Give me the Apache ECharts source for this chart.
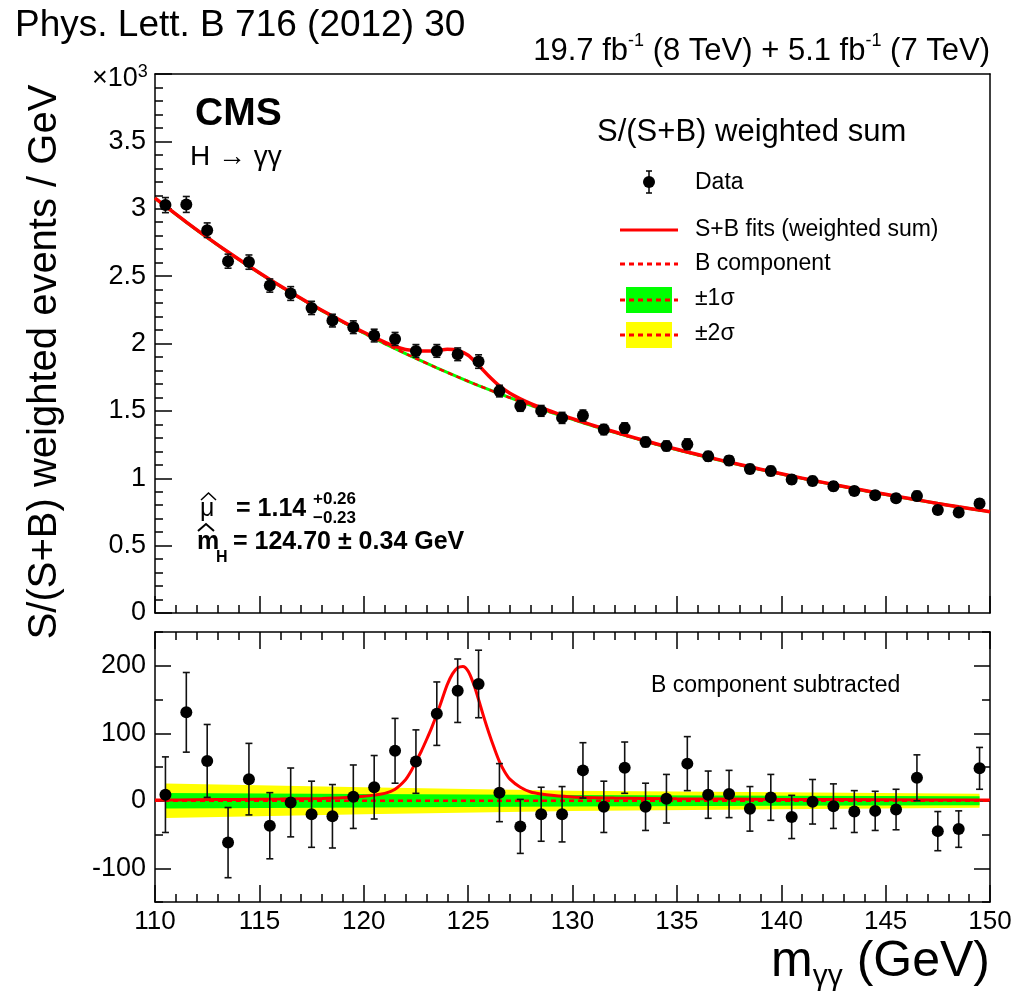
<!DOCTYPE html>
<html><head><meta charset="utf-8">
<script src="https://cdn.jsdelivr.net/npm/echarts@6/dist/echarts.min.js"></script>
<style>html,body{margin:0;padding:0;background:#fff}#c{width:1018px;height:999px}</style>
</head><body><div id="c"></div>
<script>
// ---- data ----
const massBins = [110.5,111.5,112.5,113.5,114.5,115.5,116.5,117.5,118.5,119.5,120.5,121.5,122.5,123.5,124.5,125.5,126.5,127.5,128.5,129.5,130.5,131.5,132.5,133.5,134.5,135.5,136.5,137.5,138.5,139.5,140.5,141.5,142.5,143.5,144.5,145.5,146.5,147.5,148.5,149.5];
const weightedEvents = [3027,3032,2841,2611,2604,2430,2371,2264,2170,2121,2059,2034,1945,1945,1920,1866,1647,1537,1500,1448,1465,1361,1373,1269,1240,1252,1163,1131,1069,1054,990,980,941,906,874,852,869,765,745,812];
const bkgSubtracted = [9,131,59,-62,32,-37,-2.5,-20,-23,6,20,74,58,129,163,173,12,-38,-20,-20,45,-9,49,-9,3,55,9,10,-12,5,-24,-1.5,-8,-16,-15,-13,34,-45,-42,48];
const statErrors = [56,59,54,52,53,49,51,49,47,47,47,48,47,47,47,50,43,40,40,41,41,38,38,35,36,40,35,35,33,34,32,33,33,31,29,30,34,29,27,31];
const bkgMass = [110,110.5,111.5,112.5,113.5,114.5,115.5,116.5,117.5,118.5,119.5,120.5,121.5,122.5,123.5,124.5,125.5,126.5,127.5,128.5,129.5,130.5,131.5,132.5,133.5,134.5,135.5,136.5,137.5,138.5,139.5,140.5,141.5,142.5,143.5,144.5,145.5,146.5,147.5,148.5,149.5,150];
const bkgFit = [3078,3018,2900,2786,2677,2573,2473,2378,2287,2200,2117,2038,1962,1889,1819,1752,1688,1627,1569,1514,1462,1412,1364,1318,1274,1232,1192,1154,1117,1082,1048,1015,983,952,922,893,865,838,812,787,763,751];
const sbMass = [110,110.5,111.5,112.5,113.5,114.5,115.5,116.5,117.5,118.5,119.5,120.5,121,121.5,122,122.5,123,123.5,124,124.5,125,125.5,126,126.5,127,127.5,128,128.5,129.5,130.5,131.5,132.5,133.5,134.5,135.5,136.5,137.5,138.5,139.5,140.5,141.5,142.5,143.5,144.5,145.5,146.5,147.5,148.5,149.5,150];
const sbFit = [3079,3019,2901,2788,2679,2575,2475,2381,2290,2204,2122,2046,2011,1978,1955,1947,1944,1946,1957,1949,1913,1838,1757,1685,1630,1589,1554,1524,1468,1417,1368,1322,1278,1235,1195,1157,1120,1085,1050,1017,985,954,924,895,867,840,813,788,764,752];
const sigMass = [110,112,114,116,118,119,120,120.5,121,121.5,122,122.25,122.5,122.75,123,123.25,123.5,123.75,124,124.25,124.5,124.75,125,125.25,125.5,125.75,126,126.25,126.5,126.75,127,127.5,128,128.5,129,130,132,135,140,145,150];
const sigFit = [1,1.5,2,2.5,3.5,4.5,6.5,8.5,11,17,31,43,58,73,90,108,128,150,172,188,197,199,192,174,150,124,100,78,58,43,32,20,13,10,8,5.5,4,3,2,1.5,1];
const bandMass = [110.5,120,130,140,149.5];
const band1Sigma = [11.5,10,8.5,7.5,6.7];
const band2Sigma = [25.5,20,15,12.5,10.4];
const bottomLabelValues = [-100,0,100,200];

const FONT = "'Liberation Sans', Arial, Helvetica, sans-serif";
const RED = '#ff0000', GREEN = '#00ff00', YELLOW = '#ffff00';
const chart = echarts.init(document.getElementById('c'), null, {renderer:'canvas'});

const lineBlack = {color:'#000', width:1.5};
function xAx(grid, pos, opts) {
  return Object.assign({type:'value', gridIndex:grid, position:pos, min:110, max:150, interval:5,
    axisLine:{show:true, onZero:false, lineStyle:lineBlack},
    axisTick:{show:true, inside:true, length:17, lineStyle:lineBlack},
    minorTick:{show:true, splitNumber:5, length:8, lineStyle:lineBlack},
    axisLabel:{show:false}, splitLine:{show:false}, minorSplitLine:{show:false}}, opts||{});
}
function yAx(grid, pos, min, max, interval, opts) {
  return Object.assign({type:'value', gridIndex:grid, position:pos, min:min, max:max, interval:interval,
    axisLine:{show:true, onZero:false, lineStyle:lineBlack},
    axisTick:{show:true, inside:true, length:17, lineStyle:lineBlack},
    minorTick:{show:false},
    axisLabel:{show:false}, splitLine:{show:false}}, opts||{});
}

function errorBars(xi, yi, centers) {
  return {type:'custom', xAxisIndex:xi, yAxisIndex:yi, z:6, silent:true,
    data: massBins.map((m,i)=>[m, centers[i]-statErrors[i], centers[i]+statErrors[i]]),
    encode:{x:0, y:[1,2]},
    renderItem(params, api) {
      const x = api.value(0);
      const lo = api.coord([x, api.value(1)]), hi = api.coord([x, api.value(2)]);
      const st = {stroke:'#111', lineWidth:1.6};
      const c = 3.5;
      return {type:'group', children:[
        {type:'line', shape:{x1:hi[0],y1:hi[1],x2:lo[0],y2:lo[1]}, style:st},
        {type:'line', shape:{x1:hi[0]-c,y1:hi[1],x2:hi[0]+c,y2:hi[1]}, style:st},
        {type:'line', shape:{x1:lo[0]-c,y1:lo[1],x2:lo[0]+c,y2:lo[1]}, style:st}
      ]};
    }
  };
}
function band(widths, color, z) {
  return {type:'custom', xAxisIndex:2, yAxisIndex:4, z:z, silent:true, data:[[130,0]],
    renderItem(params, api) {
      const pts = [];
      bandMass.forEach((m,i)=>pts.push(api.coord([m, widths[i]])));
      for (let i=bandMass.length-1;i>=0;i--) pts.push(api.coord([bandMass[i], -widths[i]]));
      return {type:'polygon', shape:{points:pts}, style:{fill:color}};
    }
  };
}
const dot = {symbol:'circle', symbolSize:12, itemStyle:{color:'#000', opacity:1}, z:7, silent:true};

const option = {
  animation:false,
  backgroundColor:'#fff',
  textStyle:{fontFamily:FONT},
  grid:[
    {left:155, top:74, width:835, height:539},
    {left:155, top:632, width:835, height:270}
  ],
  xAxis:[
    xAx(0,'bottom'),
    xAx(0,'top',{axisTick:{show:false}, minorTick:{show:false}}),
    xAx(1,'bottom',{axisLabel:{show:true, color:'#000', fontSize:26, fontFamily:FONT, margin:7}}),
    xAx(1,'top')
  ],
  yAxis:[
    yAx(0,'left',0,4000,500,{
      minorTick:{show:true, splitNumber:5, length:8, lineStyle:lineBlack},
      axisLabel:{show:true, color:'#000', fontSize:27, fontFamily:FONT, margin:9,
        formatter:v=> v>=4000 ? '' : String(v/1000)}}),
    yAx(0,'right',0,4000,500,{axisTick:{show:false}}),
    yAx(1,'left',-150,250,50,{axisTick:{show:true, inside:true, length:8, lineStyle:lineBlack}}),
    yAx(1,'right',-150,250,50,{axisTick:{show:true, inside:true, length:8, lineStyle:lineBlack}}),
    yAx(1,'left',-150,250,50,{axisLine:{show:false},
      axisTick:{show:true, inside:true, length:16, lineStyle:lineBlack, customValues:bottomLabelValues},
      axisLabel:{show:true, color:'#000', fontSize:27, fontFamily:FONT, margin:9, customValues:bottomLabelValues}}),
    yAx(1,'right',-150,250,50,{axisLine:{show:false},
      axisTick:{show:true, inside:true, length:16, lineStyle:lineBlack, customValues:bottomLabelValues}})
  ],
  series:[
    // top panel
    {type:'line', xAxisIndex:0, yAxisIndex:0, data:bkgMass.map((m,i)=>[m,bkgFit[i]]), smooth:0.3,
      showSymbol:false, lineStyle:{color:GREEN, width:3}, z:2, silent:true},
    {type:'line', xAxisIndex:0, yAxisIndex:0, data:bkgMass.map((m,i)=>[m,bkgFit[i]]), smooth:0.3,
      showSymbol:false, lineStyle:{color:RED, width:2.5, type:[5,4]}, z:3, silent:true},
    {type:'line', xAxisIndex:0, yAxisIndex:0, data:sbMass.map((m,i)=>[m,sbFit[i]]), smooth:0.3,
      showSymbol:false, lineStyle:{color:RED, width:3.5}, z:4, silent:true},
    errorBars(0,0,weightedEvents),
    Object.assign({type:'scatter', xAxisIndex:0, yAxisIndex:0, data:massBins.map((m,i)=>[m,weightedEvents[i]])}, dot),
    // bottom panel
    band(band2Sigma, YELLOW, 1),
    band(band1Sigma, GREEN, 2),
    {type:'line', xAxisIndex:2, yAxisIndex:2, data:[[110,0],[150,0]], showSymbol:false,
      lineStyle:{color:RED, width:2.5, type:[5,4]}, z:3, silent:true},
    {type:'line', xAxisIndex:2, yAxisIndex:2, data:sigMass.map((m,i)=>[m,sigFit[i]]), smooth:0.3,
      showSymbol:false, lineStyle:{color:RED, width:3}, z:4, silent:true},
    errorBars(2,2,bkgSubtracted),
    Object.assign({type:'scatter', xAxisIndex:2, yAxisIndex:2, data:massBins.map((m,i)=>[m,bkgSubtracted[i]])}, dot)
  ],
  graphic:[
    {type:'text', left:15, top:7, style:{text:'Phys. Lett. B 716 (2012) 30', font:'37px '+FONT, fill:'#000'}},
    {type:'text', x:990, y:51, style:{text:'{a|19.7 fb}{s|-1}{a| (8 TeV) + 5.1 fb}{s|-1}{a| (7 TeV)}',
      align:'right', verticalAlign:'middle', fill:'#000', fontFamily:FONT,
      rich:{a:{fontSize:31, lineHeight:38, fontFamily:FONT, fill:'#000'}, s:{fontSize:18, lineHeight:18, verticalAlign:'top', fontFamily:FONT, fill:'#000'}}}},
    {type:'text', x:92, y:79, style:{text:'{a|×10}{s|3}', verticalAlign:'middle', fontFamily:FONT,
      rich:{a:{fontSize:27, lineHeight:32, fontFamily:FONT, fill:'#000'}, s:{fontSize:18, lineHeight:18, verticalAlign:'top', fontFamily:FONT, fill:'#000'}}}},
    {type:'text', x:195, y:114, style:{text:'CMS', font:'bold 39px '+FONT, fill:'#000', verticalAlign:'middle'}},
    {type:'text', x:190, y:157, style:{text:'H → γγ', font:'28px '+FONT, fill:'#000', verticalAlign:'middle'}},
    {type:'text', x:597, y:132, style:{text:'S/(S+B) weighted sum', font:'31px '+FONT, fill:'#000', verticalAlign:'middle'}},
    // legend
    {type:'line', shape:{x1:649,y1:171,x2:649,y2:193}, style:{stroke:'#000', lineWidth:1.5}},
    {type:'line', shape:{x1:646,y1:171,x2:652,y2:171}, style:{stroke:'#000', lineWidth:1.5}},
    {type:'line', shape:{x1:646,y1:193,x2:652,y2:193}, style:{stroke:'#000', lineWidth:1.5}},
    {type:'circle', shape:{cx:649, cy:182, r:6}, style:{fill:'#000'}},
    {type:'text', x:695, y:183, style:{text:'Data', font:'23px '+FONT, fill:'#000', verticalAlign:'middle'}},
    {type:'line', shape:{x1:620,y1:230,x2:678,y2:230}, style:{stroke:RED, lineWidth:3}},
    {type:'text', x:695, y:230, style:{text:'S+B fits (weighted sum)', font:'23px '+FONT, fill:'#000', verticalAlign:'middle'}},
    {type:'line', shape:{x1:620,y1:264,x2:678,y2:264}, style:{stroke:RED, lineWidth:3, lineDash:[5,4]}},
    {type:'text', x:695, y:264, style:{text:'B component', font:'23px '+FONT, fill:'#000', verticalAlign:'middle'}},
    {type:'rect', shape:{x:626,y:287,width:46,height:26}, style:{fill:GREEN}},
    {type:'line', shape:{x1:620,y1:300,x2:678,y2:300}, style:{stroke:RED, lineWidth:3, lineDash:[5,4]}},
    {type:'text', x:695, y:299, style:{text:'±1σ', font:'23px '+FONT, fill:'#000', verticalAlign:'middle'}},
    {type:'rect', shape:{x:626,y:322,width:46,height:26}, style:{fill:YELLOW}},
    {type:'line', shape:{x1:620,y1:335,x2:678,y2:335}, style:{stroke:RED, lineWidth:3, lineDash:[5,4]}},
    {type:'text', x:695, y:334, style:{text:'±2σ', font:'23px '+FONT, fill:'#000', verticalAlign:'middle'}},
    // fit results
    {type:'text', x:200, y:509, style:{text:'μ', font:'25px '+FONT, fill:'#000', verticalAlign:'middle'}},
    {type:'polyline', shape:{points:[[201,500],[208.5,493],[216,500]]}, style:{stroke:'#000', lineWidth:1.5, fill:null}},
    {type:'text', x:236, y:509, style:{text:'= 1.14', font:'bold 25px '+FONT, fill:'#000', verticalAlign:'middle'}},
    {type:'text', x:313, y:499, style:{text:'+0.26', font:'bold 17px '+FONT, fill:'#000', verticalAlign:'middle'}},
    {type:'text', x:313, y:518, style:{text:'−0.23', font:'bold 17px '+FONT, fill:'#000', verticalAlign:'middle'}},
    {type:'text', x:197, y:542, style:{text:'m', font:'bold 25px '+FONT, fill:'#000', verticalAlign:'middle'}},
    {type:'polyline', shape:{points:[[198,531],[206,524],[214,531]]}, style:{stroke:'#000', lineWidth:2, fill:null}},
    {type:'text', x:216, y:558, style:{text:'H', font:'bold 16px '+FONT, fill:'#000', verticalAlign:'middle'}},
    {type:'text', x:233, y:542, style:{text:'= 124.70 ± 0.34 GeV', font:'bold 25px '+FONT, fill:'#000', verticalAlign:'middle'}},
    // bottom panel label
    {type:'text', x:651, y:686, style:{text:'B component subtracted', font:'23px '+FONT, fill:'#000', verticalAlign:'middle'}},
    // axis titles
    {type:'text', x:45, y:362, rotation:Math.PI/2, style:{text:'S/(S+B) weighted events / GeV', font:'40px '+FONT, fill:'#000', align:'center', verticalAlign:'middle'}},
    {type:'text', x:990, y:962, style:{text:'{a|m}{b|γγ}{a| (GeV)}', align:'right', verticalAlign:'middle', fontFamily:FONT,
      rich:{a:{fontSize:50, lineHeight:60, fontFamily:FONT, fill:'#000'}, b:{fontSize:30, lineHeight:42, verticalAlign:'bottom', fontFamily:FONT, fill:'#000'}}}}
  ]
};
chart.setOption(option);
</script>
</body></html>
